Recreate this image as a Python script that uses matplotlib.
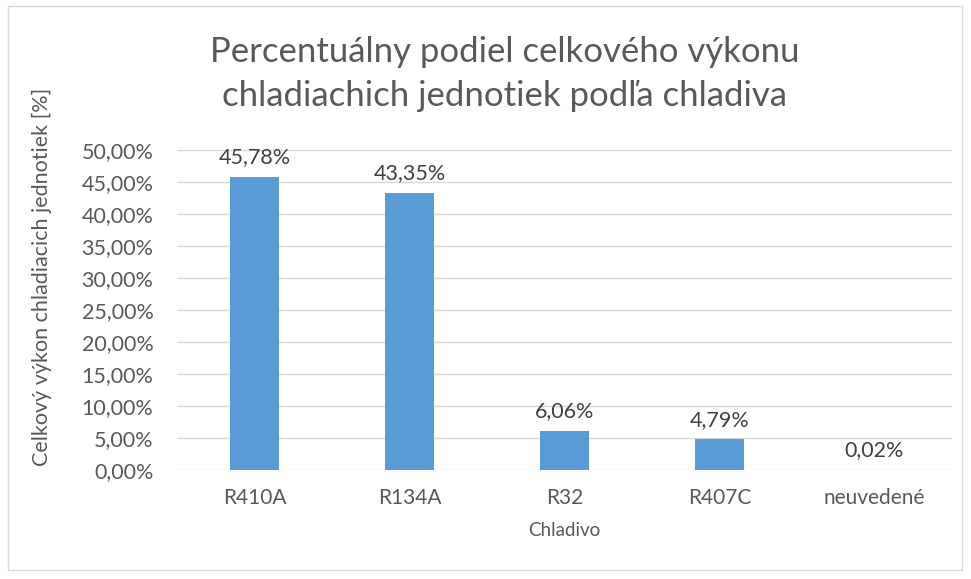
import matplotlib.pyplot as plt
from matplotlib.patches import Rectangle
from matplotlib.ticker import FuncFormatter

plt.rcParams['font.family'] = ['Lato', 'DejaVu Sans']

categories = ['R410A', 'R134A', 'R32', 'R407C', 'neuvedené']
values = [45.78, 43.35, 6.06, 4.79, 0.02]

txt = '#595959'

fig = plt.figure(figsize=(9.71, 5.79), dpi=100)
fig.patches.append(Rectangle((0.008, 0.015), 0.983, 0.975, transform=fig.transFigure,
                             fill=False, edgecolor='#d9d9d9', linewidth=1))
ax = fig.add_axes([0.1823, 0.1883, 0.7981, 0.5526])

x = range(len(categories))
ax.bar(x, values, width=0.32, color='#5b9bd5', zorder=3)
for i, v in enumerate(values):
    ax.annotate(f'{v:.2f}%'.replace('.', ','), (i, v), xytext=(0, 7),
                textcoords='offset points', ha='center', va='bottom',
                fontsize=15.5, color='#404040')

ax.set_xlim(-0.5, len(categories) - 0.5)
ax.set_ylim(0, 50)
ax.set_yticks(range(0, 51, 5))
ax.yaxis.set_major_formatter(FuncFormatter(lambda v, p: f'{v:.2f}%'.replace('.', ',')))
ax.set_xticks(list(x))
ax.set_xticklabels(categories)
ax.tick_params(axis='both', length=0, colors=txt)
ax.tick_params(axis='x', pad=13, labelsize=15)
ax.tick_params(axis='y', pad=17, labelsize=15.5)
ax.grid(axis='y', color='#d9d9d9', linewidth=1, zorder=0)
for s in ax.spines.values():
    s.set_visible(False)

ax.set_xlabel('Chladivo', fontsize=13.5, color=txt, labelpad=10)
fig.text(0.043, 0.522, 'Celkový výkon chladiacich jednotiek [%]', rotation=90,
         ha='center', va='center', fontsize=15.5, color=txt)
fig.text(0.52, 0.872, 'Percentuálny podiel celkového výkonu\nchladiachich jednotiek podľa chladiva',
         ha='center', va='center', fontsize=25, color=txt, linespacing=1.45)

fig.savefig('out.png', dpi=100)
